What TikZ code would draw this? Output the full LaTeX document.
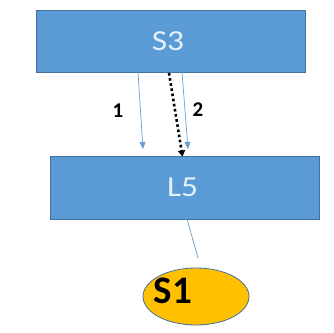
\documentclass[tikz,border=0pt]{standalone}
\usepackage{fontspec}
\setmainfont{Carlito}
\usetikzlibrary{arrows.meta,shapes.geometric}
\definecolor{boxfill}{HTML}{5B9BD5}
\definecolor{boxedge}{HTML}{41719C}
\definecolor{boxtext}{HTML}{E4F0FA}
\definecolor{linkblue}{HTML}{6A9FD3}
\definecolor{gold}{HTML}{FFC000}
\tikzset{
  block/.style={draw=boxedge, line width=0.8pt, fill=boxfill, text=boxtext,
    minimum width=269pt, inner sep=0pt, font=\fontsize{29}{29}\selectfont},
  thinarrow/.style={draw=linkblue, line width=0.7pt,
    -{Triangle[width=6pt,length=7pt]}},
  dotarrow/.style={draw=black, line width=2.6pt, dash pattern=on 2.6pt off 2.6pt,
    -{Triangle[width=7pt,length=6pt]}},
  numlabel/.style={font=\bfseries\fontsize{21}{21}\selectfont, text=black},
}
\begin{document}
\begin{tikzpicture}[x=1pt,y=-1pt]
\useasboundingbox (0,0) rectangle (334,332);
\fill[white] (0,0) rectangle (334,332);

% the two blocks
\node[block, minimum height=62pt] (s3) at (170.5,41) {};
\node[block, minimum height=63pt] (l5) at (184.5,187.5) {};
\node[text=boxtext, font=\fontsize{29}{29}\selectfont, xscale=1.15] (s3text) at (168,41) {S3};
\node[text=boxtext, font=\fontsize{29}{29}\selectfont, xscale=1.15] (l5text) at (182.5,187) {L5};

% the leaf
\node[ellipse, draw=boxedge, line width=0.8pt, fill=gold,
      minimum width=106pt, minimum height=57pt, inner sep=0pt] (s1) at (196,296.5) {};
\node[font=\bfseries\fontsize{39}{39}\selectfont, text=black] (s1text) at (173,290.5) {S1};

% connectors
\coordinate (a1s) at (138,72);
\coordinate (a1e) at (143,149);
\coordinate (a2s) at (182,72);
\coordinate (a2e) at (188,149);
\coordinate (dts) at (169,73);
\coordinate (dte) at (182.5,156.5);
\coordinate (lks) at (187,219);
\coordinate (lke) at (198,258);

\draw[thinarrow] (a1s) -- (a1e);
\draw[thinarrow] (a2s) -- (a2e);
\draw[dotarrow] (dts) -- (dte);
\draw[draw=linkblue!80!gray, line width=0.7pt] (lks) -- (lke);

\node[numlabel] (n1) at (118,111) {1};
\node[numlabel] (n2) at (198,110) {2};
\end{tikzpicture}
\end{document}
